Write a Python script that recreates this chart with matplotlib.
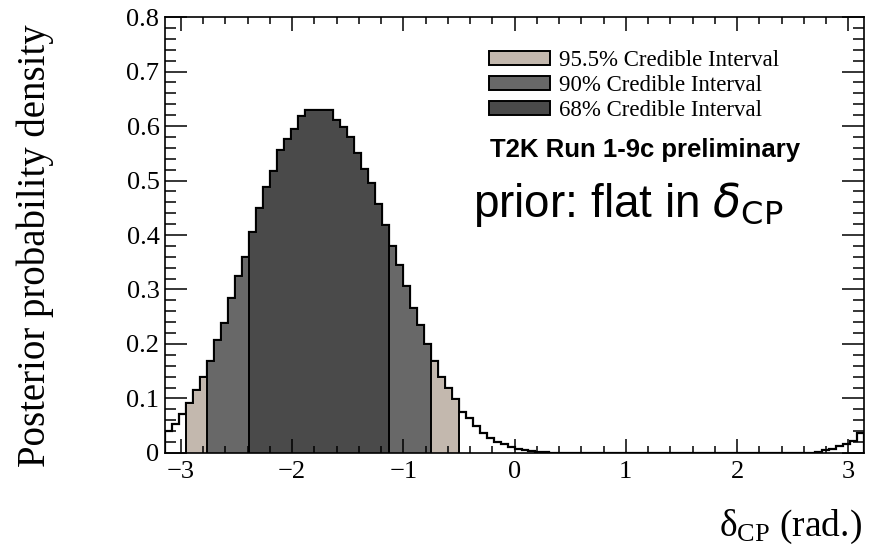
import numpy as np
import matplotlib
matplotlib.use("Agg")
import matplotlib.pyplot as plt
from matplotlib.ticker import MultipleLocator, FixedLocator, FuncFormatter
from matplotlib.patches import Patch

plt.rcParams["mathtext.fontset"] = "dejavusans"

# posterior density of delta_CP, 100 bins over [-pi, pi]
density = [
    0.040, 0.054, 0.071,
    0.091, 0.115, 0.140,
    0.169, 0.207, 0.238, 0.285, 0.324, 0.360,
    0.406, 0.449, 0.489, 0.518, 0.556, 0.576, 0.594, 0.618,
    0.629, 0.630, 0.630, 0.629,
    0.611, 0.599, 0.580, 0.551, 0.522, 0.495, 0.457, 0.418,
    0.380, 0.345, 0.307, 0.266, 0.235, 0.200,
    0.168, 0.140, 0.119, 0.099,
    0.076, 0.064, 0.050, 0.037, 0.028, 0.021, 0.016, 0.011, 0.007,
    0.005, 0.003, 0.002, 0.001,
] + [0.0] * 38 + [0.002, 0.005, 0.008, 0.012, 0.016, 0.022, 0.036]

# credible intervals as (first bin, last bin + 1)
interval_names = ["95.5% Credible Interval", "90% Credible Interval", "68% Credible Interval"]
interval_bins = [(3, 42), (6, 38), (12, 32)]
interval_colors = ["#c3b8ae", "#686868", "#4a4a4a"]

density = np.array(density)
edges = np.linspace(-np.pi, np.pi, len(density) + 1)

fig = plt.figure(figsize=(8.76, 5.6), dpi=100)
ax = fig.add_axes([0.1884, 0.1911, 0.7979, 0.7785])

ax.stairs(density, edges, color="black", lw=1.6, baseline=0)
for (i0, i1), c in zip(interval_bins, interval_colors):
    ax.stairs(density[i0:i1], edges[i0:i1 + 1], fill=True, facecolor=c,
              edgecolor="black", lw=1.4, baseline=0)

ax.set_xlim(-np.pi, np.pi)
ax.set_ylim(0, 0.8)

serif = "Liberation Serif"
ax.xaxis.set_major_locator(FixedLocator([-3, -2, -1, 0, 1, 2, 3]))
ax.xaxis.set_minor_locator(MultipleLocator(0.2))
ax.yaxis.set_major_locator(MultipleLocator(0.1))
ax.yaxis.set_minor_locator(MultipleLocator(0.02))
ax.xaxis.set_major_formatter(FuncFormatter(lambda v, p: f"{v:.0f}".replace("-", "\u2212")))
ax.yaxis.set_major_formatter(FuncFormatter(lambda v, p: "0" if abs(v) < 1e-9 else f"{v:.1f}"))
for lab in ax.get_xticklabels() + ax.get_yticklabels():
    lab.set_fontfamily(serif)
    lab.set_fontsize(19)

ax.tick_params(which="both", direction="in", top=True, right=True, width=1.1)
ax.tick_params(axis="x", which="major", length=10, pad=6)
ax.tick_params(axis="x", which="minor", length=5)
ax.tick_params(axis="y", which="major", length=15.5, pad=4)
ax.tick_params(axis="y", which="minor", length=8)
for s in ax.spines.values():
    s.set_linewidth(1.2)

fig.text(0.040, 0.562, "Posterior probability density", rotation=90,
         ha="center", va="center", family=serif, fontsize=28)
fig.text(0.984, 0.059, r"$\mathregular{\delta_{CP}}$ (rad.)", ha="right",
         va="center", family=serif, fontsize=27)

handles = [Patch(facecolor=c, edgecolor="black", lw=1.4) for c in interval_colors]
leg = ax.legend(handles, interval_names, loc="upper left",
                bbox_to_anchor=(0.444, 0.955), frameon=False,
                prop={"family": serif, "size": 16.5}, handlelength=2.65,
                handleheight=0.55, labelspacing=0.17, handletextpad=0.4,
                borderpad=0.1)

ax.text(0.465, 0.696, "T2K Run 1-9c preliminary", transform=ax.transAxes,
        family="Liberation Sans", weight="bold", fontsize=18.5, va="center")
ax.text(0.44, 0.57, r"prior: flat in $\delta_{\mathrm{CP}}$", transform=ax.transAxes,
        family="Liberation Sans", fontsize=33, va="center")

fig.savefig("out.png", dpi=100)
